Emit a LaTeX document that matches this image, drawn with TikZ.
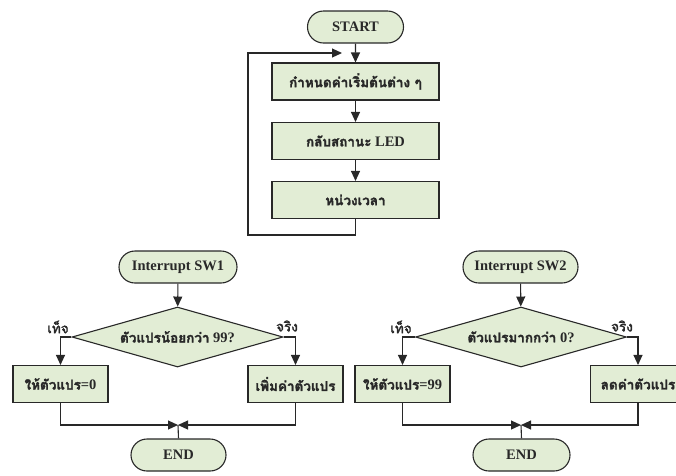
\documentclass[tikz,border=0pt]{standalone}
\usepackage{fontspec}
\setmainfont{Liberation Serif}
\newfontfamily\thaifont[Script=Thai,FakeBold=2]{Loma}
\usepackage{tikz}
\usetikzlibrary{shapes.geometric,shapes.misc,arrows.meta,positioning,calc}
\usepackage{xcolor}
\definecolor{boxgreen}{RGB}{226,237,213}
\definecolor{linegray}{RGB}{40,40,40}
\newcommand{\thtext}[1]{{\thaifont\fontsize{13.5}{15}\selectfont #1}}

\begin{document}
\begin{tikzpicture}[x=1pt, y=-1pt,
    every node/.style={font=\fontsize{14.5}{16}\selectfont\bfseries, text=linegray},
    startstop/.style={rounded rectangle, draw=linegray, line width=1.1pt, fill=boxgreen, minimum height=32pt, inner sep=0pt},
    process/.style={rectangle, draw=linegray, line width=1.1pt, fill=boxgreen, minimum width=95pt, minimum height=37pt, inner sep=0pt},
    decision/.style={diamond, aspect=3.5, draw=linegray, line width=1.1pt, fill=boxgreen, minimum width=211pt, minimum height=60pt, inner sep=0pt},
    flow/.style={draw=linegray, line width=1.1pt, -{Triangle[length=10pt,width=9pt]}},
    branch/.style={font=\thaifont\fontsize{13.5}{15}\selectfont}]
                    \clip (0,0) rectangle (676,475);
                    % main loop
                    \node[startstop, minimum width=96pt] (start) at (355.5,27) {START};
                    \node[process, minimum width=167pt] (init) at (355.5,81.5) {\thtext{กำหนดค่าเริ่มต้นต่าง ๆ}};
                    \node[process, minimum width=167pt] (toggle) at (355.5,141) {\thtext{กลับสถานะ} LED};
                    \node[process, minimum width=167pt] (delay) at (355.5,200) {\thtext{หน่วงเวลา}};
                    \coordinate (loopbot) at (248,235);
                    \coordinate (looptop) at (342,53);
                    \draw[flow] (start) -- (init);
                    \draw[flow] (init) -- (toggle);
                    \draw[flow] (toggle) -- (delay);
                    \draw[flow] (delay.south) |- (loopbot) |- (looptop);
                    % interrupt SW1
                    \node[startstop, minimum width=118pt] (intA) at (178,267) {Interrupt SW1};
                    \node[decision] (decA) at (177.5,337) {\thtext{ตัวแปรน้อยกว่า} 99?};
                    \node[process] (zeroA) at (60.5,384) {\thtext{ให้ตัวแปร}=0};
                    \node[process] (incA) at (295.5,384) {\thtext{เพิ่มค่าตัวแปร}};
                    \node[startstop, minimum width=95pt] (endA) at (178.5,455) {END};
                    \node[branch] (falseA) at (58,327) {เท็จ};
                    \node[branch] (trueA) at (287,326) {จริง};
                    \coordinate (mergeA) at (178,425);
                    \draw[flow] (intA) -- (decA);
                    \draw[flow] (decA.west) -| (zeroA.north);
                    \draw[flow] (decA.east) -| (incA.north);
                    \draw[flow] (zeroA.south) |- (mergeA);
                    \draw[flow] (incA.south) |- (mergeA);
                    \draw[draw=linegray, line width=1.1pt] (mergeA) -- (endA.north);
                    % interrupt SW2
                    \node[startstop, minimum width=115pt] (intB) at (520.5,267) {Interrupt SW2};
                    \node[decision] (decB) at (521,337) {\thtext{ตัวแปรมากกว่า} 0?};
                    \node[process] (maxB) at (402.5,384) {\thtext{ให้ตัวแปร}=99};
                    \node[process] (decrB) at (638,384) {\thtext{ลดค่าตัวแปร}};
                    \node[startstop, minimum width=97pt] (endB) at (521.5,455) {END};
                    \node[branch] (falseB) at (401,327) {เท็จ};
                    \node[branch] (trueB) at (622,326) {จริง};
                    \coordinate (mergeB) at (521,425);
                    \draw[flow] (intB) -- (decB);
                    \draw[flow] (decB.west) -| (maxB.north);
                    \draw[flow] (decB.east) -| (decrB.north);
                    \draw[flow] (maxB.south) |- (mergeB);
                    \draw[flow] (decrB.south) |- (mergeB);
                    \draw[draw=linegray, line width=1.1pt] (mergeB) -- (endB.north);
\end{tikzpicture}
\end{document}
